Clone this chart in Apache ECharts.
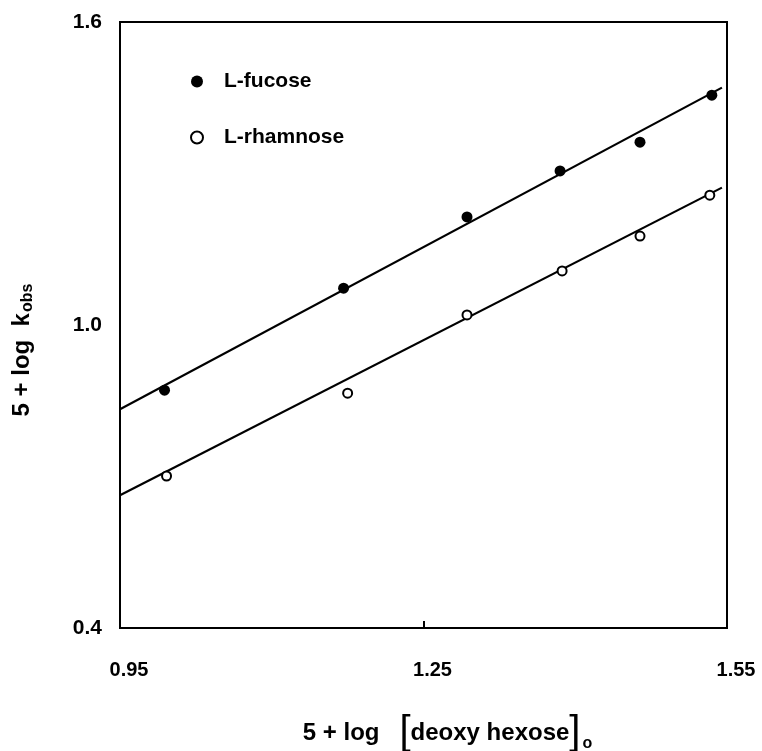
<!DOCTYPE html>
<html>
<head>
<meta charset="utf-8">
<script src="https://cdn.jsdelivr.net/npm/echarts@6/dist/echarts.min.js"></script>
<style>
  html, body { margin: 0; padding: 0; background: #fff; }
  #main { width: 762px; height: 751px; }
</style>
</head>
<body>
<div id="main"></div>
<script>
// values
var fucoseX = [0.994, 1.171, 1.293, 1.385, 1.464, 1.535];
var fucoseY = [0.871, 1.073, 1.214, 1.305, 1.362, 1.455];
var rhamnoseX = [0.996, 1.175, 1.293, 1.387, 1.464, 1.533];
var rhamnoseY = [0.701, 0.865, 1.020, 1.107, 1.176, 1.257];
// fitted lines, drawn across the frame
var fitX = [0.95, 1.545];
var fucoseFit = [0.833, 1.470];
var rhamnoseFit = [0.663, 1.272];
var xTicks = [0.95, 1.25, 1.55];
var yTicks = [0.4, 1.0, 1.6];

function pairs(xs, ys) {
  return xs.map(function (x, i) { return [x, ys[i]]; });
}

var font = 'Liberation Sans';
var ink = '#000';
var chart = echarts.init(document.getElementById('main'));

chart.setOption({
  backgroundColor: '#fff',
  animation: false,
  grid: {
    left: 120, right: 35, top: 22, bottom: 123,
    outerBoundsMode: 'none',
    containLabel: false,
    show: true, borderColor: ink, borderWidth: 2
  },
  legend: {
    orient: 'vertical',
    left: 185, top: 66,
    itemGap: 35,
    itemWidth: 12, itemHeight: 12,
    data: ['L-fucose', 'L-rhamnose'],
    textStyle: {
      fontFamily: font, fontSize: 21, fontWeight: 'bold', color: ink,
      padding: [0, 0, 0, 16]
    }
  },
  xAxis: {
    type: 'value',
    min: 0.95, max: 1.55, interval: 0.3,
    name: '{t|5 + log   }{b|[}{t|deoxy hexose}{b|]}{s|o}',
    nameLocation: 'middle',
    nameGap: 85,
    nameTextStyle: {
      padding: [0, 0, 0, 48],
      rich: {
        t: { fontFamily: font, fontSize: 24, fontWeight: 'bold', color: ink },
        b: { fontFamily: font, fontSize: 40, color: ink },
        s: { fontFamily: font, fontSize: 16, fontWeight: 'bold', color: ink, padding: [22, 0, 0, 2] }
      }
    },
    axisLine: { show: true, lineStyle: { color: ink, width: 2 } },
    axisTick: { show: true, inside: true, length: 7, lineStyle: { color: ink, width: 2 } },
    splitLine: { show: false },
    axisLabel: {
      margin: 32,
      padding: [0, 0, 0, 18],
      fontFamily: font, fontSize: 20, fontWeight: 'bold', color: ink,
      formatter: function (v) {
        for (var i = 0; i < xTicks.length; i++) {
          if (Math.abs(v - xTicks[i]) < 1e-6) return xTicks[i].toFixed(2);
        }
        return '';
      }
    }
  },
  yAxis: {
    type: 'value',
    min: 0.4, max: 1.6, interval: 0.6,
    name: '{t|5 + log  k}{s|obs}',
    nameLocation: 'middle',
    nameGap: 84,
    nameRotate: 90,
    nameTextStyle: {
      padding: [0, 50, 0, 0],
      rich: {
        t: { fontFamily: font, fontSize: 24, fontWeight: 'bold', color: ink },
        s: { fontFamily: font, fontSize: 16, fontWeight: 'bold', color: ink, padding: [12, 0, 0, 1] }
      }
    },
    axisLine: { show: true, lineStyle: { color: ink, width: 2 } },
    axisTick: { show: false },
    splitLine: { show: false },
    axisLabel: {
      margin: 18,
      fontFamily: font, fontSize: 21, fontWeight: 'bold', color: ink,
      formatter: function (v) {
        for (var i = 0; i < yTicks.length; i++) {
          if (Math.abs(v - yTicks[i]) < 1e-6) return yTicks[i].toFixed(1);
        }
        return '';
      }
    }
  },
  series: [
    {
      type: 'line',
      data: pairs(fitX, fucoseFit),
      symbol: 'none',
      lineStyle: { color: ink, width: 2.2 },
      silent: true
    },
    {
      type: 'line',
      data: pairs(fitX, rhamnoseFit),
      symbol: 'none',
      lineStyle: { color: ink, width: 2.2 },
      silent: true
    },
    {
      name: 'L-fucose',
      type: 'scatter',
      data: pairs(fucoseX, fucoseY),
      symbol: 'circle',
      symbolSize: 11,
      itemStyle: { color: ink, opacity: 1 },
      z: 5
    },
    {
      name: 'L-rhamnose',
      type: 'scatter',
      data: pairs(rhamnoseX, rhamnoseY),
      symbol: 'circle',
      symbolSize: 9,
      itemStyle: { color: '#fff', borderColor: ink, borderWidth: 2, opacity: 1 },
      z: 5
    }
  ]
});
</script>
</body>
</html>
